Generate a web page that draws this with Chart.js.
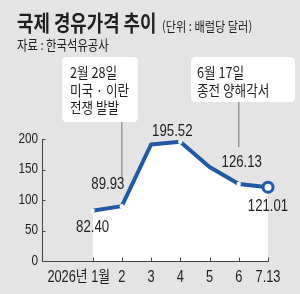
<!DOCTYPE html>
<html>
<head>
<meta charset="utf-8">
<script src="https://cdn.jsdelivr.net/npm/chart.js@4/dist/chart.umd.min.js"></script>
<style>
html,body{margin:0;padding:0;background:#e4e4e4;}
canvas{display:block;}
</style>
</head>
<body>
<canvas id="c" width="300" height="294"></canvas>
<script>
// ---- data ----
const categories = ['2026년 1월', '2', '3', '4', '5', '6', '7.13'];
const xValues = [1, 2, 3, 4, 5, 6, 7];
const prices = [82.40, 89.93, 191, 195.52, 154, 126.13, 121.01];
const valueLabels = ['82.40', '89.93', '', '195.52', '', '126.13', '121.01'];
const yTicks = [0, 50, 100, 150, 200];
const titleText = '국제 경유가격 추이';
const unitText = '(단위 : 배럴당 달러)';
const sourceText = '자료 : 한국석유공사';
const eventX = [2, 6];
const eventLines = [['2월 28일', '미국 · 이란', '전쟁 발발'], ['6월 17일', '종전 양해각서']];

// ---- style ----
const BLUE = '#1f5aa8';
const TXT = '#1e1e1e';
const LAT = '"Liberation Sans", "Noto Sans CJK KR", sans-serif';
const KR = '"Noto Sans CJK KR", "Liberation Sans", sans-serif';
const labelOffsets = [[0, 16.5], [-14, -22], [0, 0], [-8, -10.5], [0, 0], [3, -22], [0, 19.5]];
const boxes = [
  {l: 62, r: 138, t: 57, b: 122, tx: 70, ty: [72.5, 90, 107.5], lineTo: 178},
  {l: 191, r: 295, t: 57, b: 102, tx: 197, ty: [72.5, 90], lineTo: 147}
];

function txt(ctx, s, x, y, font, align, sx, color) {
  ctx.save();
  ctx.font = font;
  ctx.fillStyle = color || TXT;
  ctx.textBaseline = 'middle';
  ctx.textAlign = 'left';
  const w = ctx.measureText(s).width * sx;
  const x0 = align === 'left' ? x : (align === 'right' ? x - w : x - w / 2);
  ctx.translate(x0, y);
  ctx.scale(sx, 1);
  ctx.fillText(s, 0, 0);
  ctx.restore();
}
function rrect(ctx, l, t, r, b, rad) {
  ctx.beginPath();
  ctx.moveTo(l + rad, t);
  ctx.lineTo(r - rad, t);
  ctx.quadraticCurveTo(r, t, r, t + rad);
  ctx.lineTo(r, b - rad);
  ctx.quadraticCurveTo(r, b, r - rad, b);
  ctx.lineTo(l + rad, b);
  ctx.quadraticCurveTo(l, b, l, b - rad);
  ctx.lineTo(l, t + rad);
  ctx.quadraticCurveTo(l, t, l + rad, t);
  ctx.closePath();
}

const decor = {
  id: 'decor',
  beforeDraw(chart) {
    const ctx = chart.ctx;
    ctx.save();
    ctx.fillStyle = '#e4e4e4';
    ctx.fillRect(0, 0, chart.width, chart.height);
    ctx.restore();
  },
  afterDatasetsDraw(chart) {
    const ctx = chart.ctx;
    const xs = chart.scales.x, ys = chart.scales.y;
    // titles
    txt(ctx, titleText, 17, 23, 'bold 21.5px ' + KR, 'left', 0.83);
    txt(ctx, unitText, 162, 26, '13px ' + KR, 'left', 0.86);
    txt(ctx, sourceText, 17, 44.5, '13.5px ' + KR, 'left', 0.84);
    // event boxes and lines
    boxes.forEach((b, i) => {
      const px = xs.getPixelForValue(eventX[i]);
      ctx.save();
      ctx.strokeStyle = '#9a9a9a';
      ctx.lineWidth = 1.5;
      ctx.beginPath();
      ctx.moveTo(px, b.b);
      ctx.lineTo(px, b.lineTo);
      ctx.stroke();
      ctx.fillStyle = '#ffffff';
      rrect(ctx, b.l, b.t, b.r, b.b, 5);
      ctx.fill();
      ctx.restore();
      eventLines[i].forEach((s, j) => txt(ctx, s, b.tx, b.ty[j], '15px ' + KR, 'left', 0.84));
    });
    // tick marks
    ctx.save();
    ctx.strokeStyle = '#444';
    ctx.lineWidth = 1;
    yTicks.forEach(v => {
      const py = Math.round(ys.getPixelForValue(v)) + 0.5;
      ctx.beginPath(); ctx.moveTo(xs.left, py); ctx.lineTo(xs.left + 3.5, py); ctx.stroke();
    });
    xValues.forEach(v => {
      const px = Math.round(xs.getPixelForValue(v)) + 0.5;
      ctx.beginPath(); ctx.moveTo(px, ys.bottom); ctx.lineTo(px, ys.bottom - 3.5); ctx.stroke();
    });
    ctx.restore();
    // y labels
    yTicks.forEach(v => txt(ctx, String(v), xs.left - 4, ys.getPixelForValue(v), '14px ' + LAT, 'right', 0.84));
    // x labels
    xValues.forEach((v, i) => {
      const px = xs.getPixelForValue(v);
      if (i === 0) txt(ctx, categories[i], px + 17.5, 277.5, '16px ' + LAT, 'right', 0.8);
      else txt(ctx, categories[i], px, 277.5, '16px ' + LAT, 'center', 0.8);
    });
    // value labels
    const meta = chart.getDatasetMeta(0);
    meta.data.forEach((pt, i) => {
      if (!valueLabels[i]) return;
      txt(ctx, valueLabels[i], pt.x + labelOffsets[i][0], pt.y + labelOffsets[i][1], '16.5px ' + LAT, 'center', 0.8);
    });
  }
};

const points = xValues.map((x, i) => ({x: x, y: prices[i]}));
const radii = valueLabels.map((s, i) => i === prices.length - 1 ? 5 : (s ? 2.2 : 0));
const pbw = prices.map((p, i) => i === prices.length - 1 ? 3 : 0);

new Chart(document.getElementById('c'), {
  type: 'line',
  data: {
    datasets: [{
      data: points,
      borderColor: BLUE,
      borderWidth: 4,
      backgroundColor: '#ffffff',
      fill: 'origin',
      tension: 0,
      clip: false,
      borderJoinStyle: 'round',
      pointRadius: radii,
      pointBackgroundColor: '#ffffff',
      pointBorderColor: BLUE,
      pointBorderWidth: pbw
    }]
  },
  options: {
    responsive: false,
    animation: false,
    layout: {padding: {top: 139, right: 32, left: 0, bottom: 0}},
    plugins: {legend: {display: false}, tooltip: {enabled: false}, title: {display: false}},
    scales: {
      x: {
        type: 'linear', min: -0.73, max: 7,
        grid: {display: false, drawTicks: false},
        border: {display: true, color: '#444', width: 1},
        ticks: {display: false},
        afterFit(s) { s.height = 33; }
      },
      y: {
        min: 0, max: 200,
        grid: {display: false, drawTicks: false},
        border: {display: true, color: '#444', width: 1},
        ticks: {display: false},
        afterFit(s) { s.width = 42; }
      }
    }
  },
  plugins: [decor]
});
</script>
</body>
</html>
